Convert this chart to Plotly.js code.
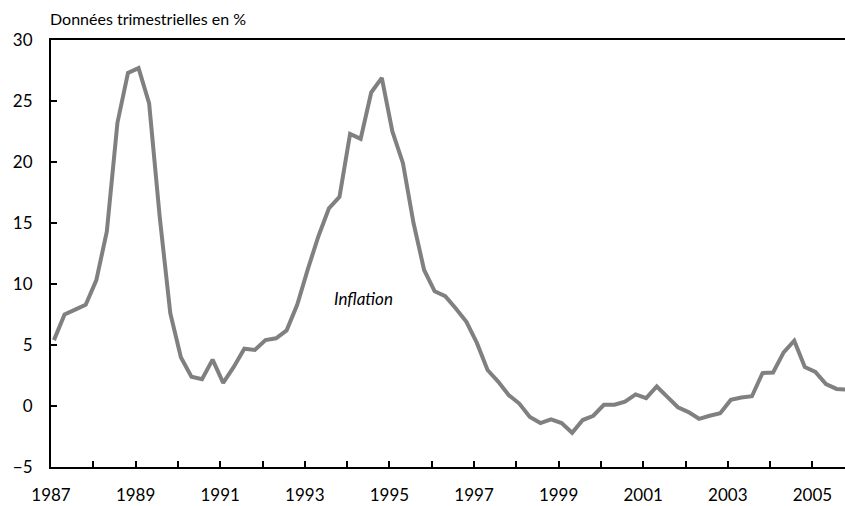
<!DOCTYPE html>
<html>
<head>
<meta charset="utf-8">
<script src="https://cdn.plot.ly/plotly-3.0.1.min.js"></script>
<style>
  html, body { margin: 0; padding: 0; background: #fff; }
  #chart { width: 845px; height: 506px; }
</style>
</head>
<body>
<div id="chart"></div>
<script>
// Quarterly inflation, 1987 Q1 to 2005 Q4 (in %)
const startYear = 1987;
const inflation = [
  5.4, 7.5, 7.9, 8.3,
  10.3, 14.3, 23.2, 27.3,
  27.7, 24.8, 15.5, 7.6,
  4.0, 2.4, 2.2, 3.8,
  1.9, 3.2, 4.7, 4.6,
  5.4, 5.55, 6.2, 8.3,
  11.2, 13.9, 16.2, 17.15,
  22.3, 21.9, 25.7, 26.9,
  22.5, 19.9, 15.0, 11.15,
  9.4, 9.0, 8.0, 6.9,
  5.15, 2.95, 2.0, 0.9,
  0.2, -0.9, -1.4, -1.1,
  -1.4, -2.2, -1.15, -0.8,
  0.1, 0.1, 0.35, 0.95,
  0.65, 1.6, 0.75, -0.1,
  -0.5, -1.05, -0.8, -0.6,
  0.5, 0.7, 0.8, 2.7,
  2.75, 4.4, 5.35, 3.2,
  2.8, 1.8, 1.4, 1.35
];
const yearTicks = [1987,1988,1989,1990,1991,1992,1993,1994,1995,1996,1997,1998,1999,2000,2001,2002,2003,2004,2005];
const yearLabels = ["1987","","1989","","1991","","1993","","1995","","1997","","1999","","2001","","2003","","2005"];
const yTicks = [-5, 0, 5, 10, 15, 20, 25, 30];

const quarterX = inflation.map((v, i) => startYear + 0.07 + i * 0.25);

const font = "Lato, 'Open Sans', sans-serif";

const trace = {
  x: quarterX,
  y: inflation,
  type: 'scatter',
  mode: 'lines',
  line: { color: '#808080', width: 4 },
  hoverinfo: 'skip',
  showlegend: false
};

const layout = {
  width: 845,
  height: 506,
  margin: { l: 51, r: 0, t: 40, b: 39 },
  paper_bgcolor: '#ffffff',
  plot_bgcolor: '#ffffff',
  title: {
    text: 'Données trimestrielles en %',
    font: { family: font, size: 16, color: '#000' },
    x: 50 / 845, xref: 'container', xanchor: 'left',
    y: 1 - 19 / 506, yref: 'container', yanchor: 'middle'
  },
  xaxis: {
    range: [1987, 2005.77],
    tickmode: 'array',
    tickvals: yearTicks,
    ticktext: yearLabels,
    ticks: 'inside',
    ticklen: 6,
    tickwidth: 2,
    tickcolor: '#000',
    showline: true,
    linecolor: '#000',
    linewidth: 2,
    mirror: true,
    showgrid: false,
    zeroline: false,
    ticklabelstandoff: 12,
    tickfont: { family: font, size: 17, color: '#000' }
  },
  yaxis: {
    range: [-5, 30],
    tickmode: 'array',
    tickvals: yTicks,
    ticks: 'inside',
    ticklen: 6,
    tickwidth: 2,
    tickcolor: '#000',
    showline: true,
    linecolor: '#000',
    linewidth: 2,
    showgrid: false,
    zeroline: false,
    ticklabelstandoff: 13,
    tickfont: { family: font, size: 17, color: '#000' }
  },
  annotations: [{
    text: '<i>Inflation</i>',
    x: 1994.38, y: 8.8,
    xref: 'x', yref: 'y',
    showarrow: false,
    font: { family: font, size: 17, color: '#000' }
  }]
};

Plotly.newPlot('chart', [trace], layout, { displayModeBar: false, staticPlot: true });
</script>
</body>
</html>
